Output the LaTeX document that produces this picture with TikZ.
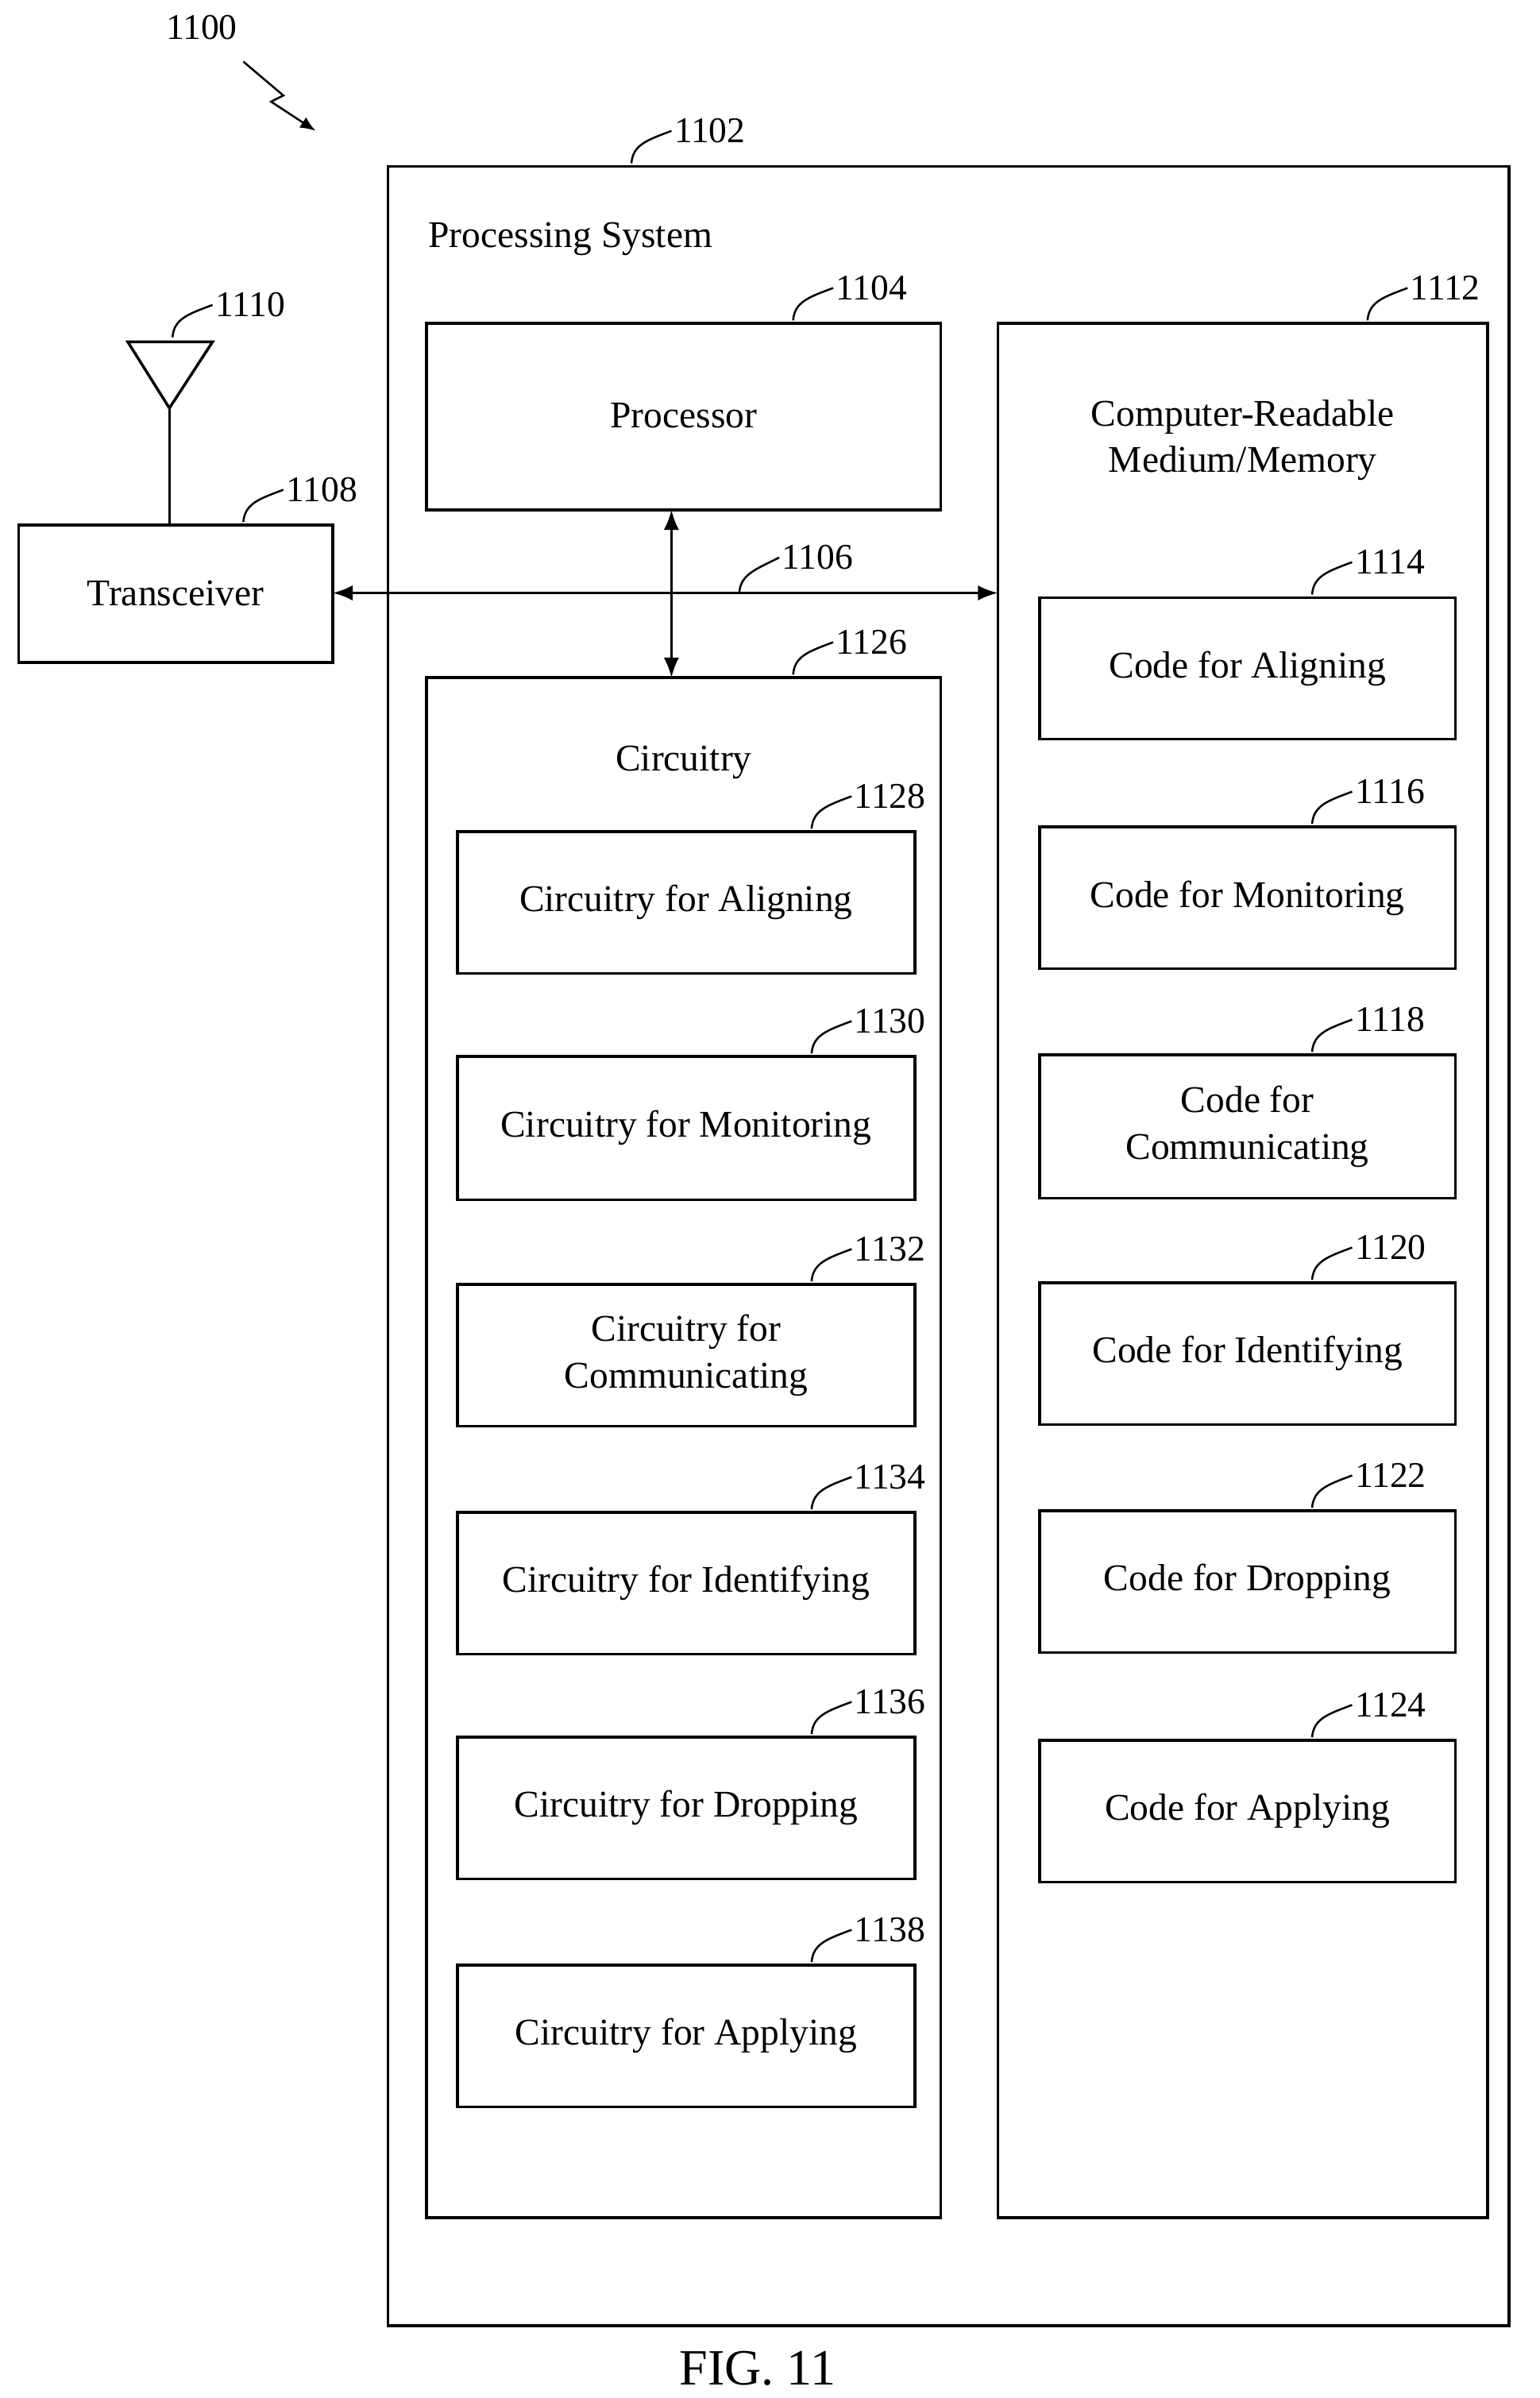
\documentclass[tikz,border=0pt]{standalone}
\usepackage{fontspec}
\setmainfont{Liberation Serif}
\usetikzlibrary{arrows.meta}
\begin{document}
\begin{tikzpicture}[x=1pt,y=-1pt,line width=1.8pt,
  txt/.style={font=\fontsize{24.5}{30}\selectfont,align=center},
  num/.style={font=\fontsize{23.5}{27}\selectfont,anchor=west,inner sep=1pt},
  ld/.style={line width=1.3pt},
  arr/.style={{Latex[length=13pt,width=10pt]}-{Latex[length=13pt,width=10pt]}}]
\useasboundingbox (0,0) rectangle (1000,1557);
\newcommand\bx[6]{\draw (#2,#3) rectangle (#4,#5);
  \node[txt] (#1) at ({(#2+#4)/2},{(#3+#5)/2}) {#6};
  \coordinate (#1-n) at ({(#2+#4)/2},#3);\coordinate (#1-s) at ({(#2+#4)/2},#5);
  \coordinate (#1-w) at (#2,{(#3+#5)/2});\coordinate (#1-e) at (#4,{(#3+#5)/2});}
\newcommand\lbl[4]{\coordinate (#1) at (#2,#3);
  \node[num] (#1t) at ({#2+26},{#3-21}) {#4};
  \draw[ld] (#1) .. controls ({#2+1},{#3-12}) and ({#2+10},{#3-15}) .. (#1t.west);}
% outer
\draw (252,108) rectangle (980,1510);
\node[txt,anchor=west] (ps) at (274,155) {Processing System};
\lbl{l1102}{410}{106}{1102}
% processor
\draw (277,210) rectangle (611,331);
\node[txt] (proc) at (444,270) {Processor};
\coordinate (proc-s) at (436,331);
\lbl{l1104}{515}{208}{1104}
% CRM
\draw (648,210) rectangle (966,1440);
\node[txt] (crm) at (807,286) {Computer-Readable\\Medium/Memory};
\coordinate (crm-w) at (648,385);
\lbl{l1112}{888}{208}{1112}
% circuitry
\draw (277,440) rectangle (611,1440);
\node[txt] (circ) at (444,495) {Circuitry};
\coordinate (circ-n) at (436,440);
\lbl{l1126}{515}{438}{1126}
% transceiver
\bx{trx}{12}{341}{216}{430}{Transceiver}
\coordinate (trx-e2) at (216,385);
\lbl{l1108}{158}{339}{1108}
% antenna
\draw (83,222) -- (138,222) -- (110,265) -- cycle;
\coordinate (ant) at (110,265);
\draw (ant) -- (110,341);
\lbl{l1110}{112}{219}{1110}
% bus
\draw[arr] (trx-e2) -- (crm-w);
\draw[arr] (proc-s) -- (circ-n);
\coordinate (bus) at (480,385);
\node[num] (b1106) at (506,362) {1106};
\draw[ld] (bus) .. controls (481,373) and (490,370) .. (b1106.west);
% circuitry subboxes
\bx{c1}{297}{540}{594}{632}{Circuitry for Aligning}\lbl{n1128}{527}{538}{1128}
\bx{c2}{297}{686}{594}{779}{Circuitry for Monitoring}\lbl{n1130}{527}{684}{1130}
\bx{c3}{297}{834}{594}{926}{Circuitry for\\Communicating}\lbl{n1132}{527}{832}{1132}
\bx{c4}{297}{982}{594}{1074}{Circuitry for Identifying}\lbl{n1134}{527}{980}{1134}
\bx{c5}{297}{1128}{594}{1220}{Circuitry for Dropping}\lbl{n1136}{527}{1126}{1136}
\bx{c6}{297}{1276}{594}{1368}{Circuitry for Applying}\lbl{n1138}{527}{1274}{1138}
% code boxes
\bx{k1}{675}{388}{945}{480}{Code for Aligning}\lbl{n1114}{852}{386}{1114}
\bx{k2}{675}{537}{945}{629}{Code for Monitoring}\lbl{n1116}{852}{535}{1116}
\bx{k3}{675}{685}{945}{778}{Code for\\Communicating}\lbl{n1118}{852}{683}{1118}
\bx{k4}{675}{833}{945}{925}{Code for Identifying}\lbl{n1120}{852}{831}{1120}
\bx{k5}{675}{981}{945}{1073}{Code for Dropping}\lbl{n1122}{852}{979}{1122}
\bx{k6}{675}{1130}{945}{1222}{Code for Applying}\lbl{n1124}{852}{1128}{1124}
% 1100
\node[num,anchor=center] (n1100) at (131,18) {1100};
\coordinate (z1) at (158,40);
\coordinate (z2) at (205,85);
\draw[ld,-{Latex[length=10pt,width=8pt]}] (z1) -- (184,62) -- (176,66) -- (z2);
\node[font=\fontsize{33}{36}\selectfont,inner sep=0pt] (fig) at (492,1538) {FIG. 11};
\end{tikzpicture}
\end{document}
